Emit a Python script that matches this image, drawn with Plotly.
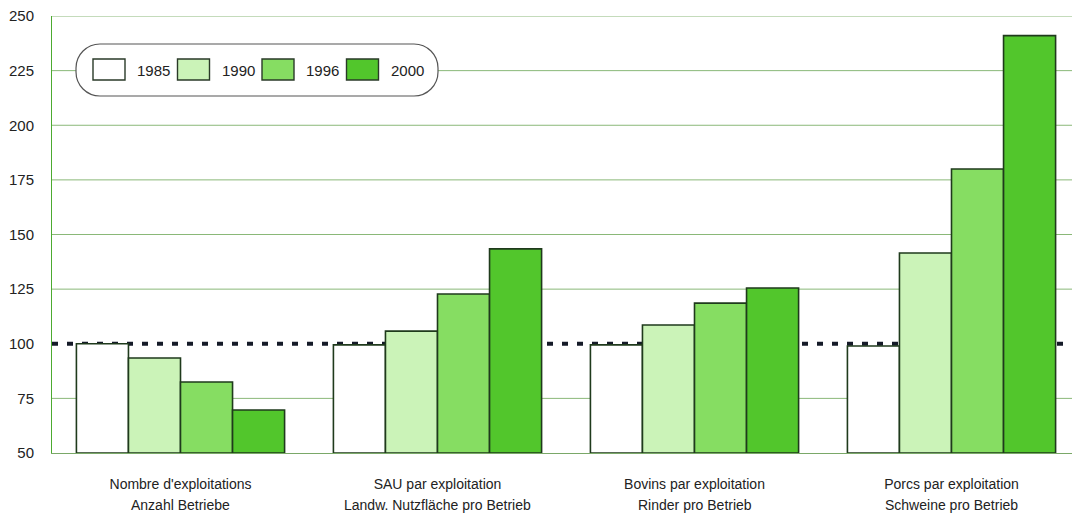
import plotly.graph_objects as go

categories_fr = ["Nombre d'exploitations", "SAU par exploitation", "Bovins par exploitation", "Porcs par exploitation"]
categories_de = ["Anzahl Betriebe", "Landw. Nutzfläche pro Betrieb", "Rinder pro Betrieb", "Schweine pro Betrieb"]
years = ["1985", "1990", "1996", "2000"]
v1985 = [100, 99.5, 99.5, 99]
v1990 = [93.5, 105.8, 108.6, 141.5]
v1996 = [82.5, 122.8, 118.6, 180]
v2000 = [69.7, 143.4, 125.5, 241]
colors = ["#ffffff", "#cbf3b8", "#86dd62", "#52c62c"]
y_ticks = [50, 75, 100, 125, 150, 175, 200, 225, 250]
reference_value = 100

series = [v1985, v1990, v1996, v2000]

# page body has an 8px margin; figure fills the rest of the 1080x518 window
OFF = 8
W, H = 1080 - OFF, 518 - OFF
ML, MR, MT, MB = 52 - OFF, 0, 16 - OFF, 65
PW, PH = W - ML - MR, H - MT - MB

def px(x):  # page pixel -> paper
    return (x - OFF - ML) / PW

def py(y):
    return (H - MB - (y - OFF)) / PH

fig = go.Figure()
for yr, vals, col in zip(years, series, colors):
    fig.add_trace(go.Bar(
        x=categories_fr, y=[v - 50 for v in vals], base=50, name=yr,
        marker=dict(color=col, line=dict(color="#1f3a1c", width=1.6)),
        showlegend=False,
    ))

# horizontal gridlines (skip the reference level, which carries the dotted line)
for t in y_ticks:
    if t != reference_value and t != y_ticks[0]:
        fig.add_shape(type="line", xref="paper", x0=0, x1=1, yref="y", y0=t, y1=t,
                      line=dict(color="#8ab878", width=1), layer="below")

# reference dotted line at 100
fig.add_shape(type="line", xref="paper", x0=0, x1=1, yref="y", y0=reference_value, y1=reference_value,
              line=dict(color="#151a28", width=4, dash="6px,9px"), layer="below")

# second line of category labels
for cfr, cde in zip(categories_fr, categories_de):
    fig.add_annotation(x=cfr, xref="x", y=0, yref="paper", yshift=-52, text=cde, showarrow=False,
                       font=dict(family="Liberation Sans Narrow, Arial Narrow, Arial", size=14, color="#222"),
                       yanchor="middle")

# custom legend with rounded box
x0, x1, y0, y1, r = 76, 438, 44, 96, 24
def P(xx, yy):
    return f"{px(xx):.5f},{py(yy):.5f}"
k = 0.5523 * r
path = (f"M {P(x0 + r, y0)} L {P(x1 - r, y0)} "
        f"C {P(x1 - r + k, y0)} {P(x1, y0 + r - k)} {P(x1, y0 + r)} "
        f"L {P(x1, y1 - r)} "
        f"C {P(x1, y1 - r + k)} {P(x1 - r + k, y1)} {P(x1 - r, y1)} "
        f"L {P(x0 + r, y1)} "
        f"C {P(x0 + r - k, y1)} {P(x0, y1 - r + k)} {P(x0, y1 - r)} "
        f"L {P(x0, y0 + r)} "
        f"C {P(x0, y0 + r - k)} {P(x0 + r - k, y0)} {P(x0 + r, y0)} Z")
fig.add_shape(type="path", xref="paper", yref="paper", path=path,
              line=dict(color="#555", width=1.2), fillcolor="white", layer="above")
for i, (yr, col) in enumerate(zip(years, colors)):
    sx = 93 + i * 84.5
    fig.add_shape(type="rect", xref="paper", yref="paper",
                  x0=px(sx), x1=px(sx + 32), y0=py(59), y1=py(80),
                  fillcolor=col, line=dict(color="#2a3a28", width=1.4), layer="above")
    fig.add_annotation(x=px(sx + 42), xref="paper", y=py(70), yref="paper", text=yr, showarrow=False,
                       xanchor="left", yanchor="middle",
                       font=dict(family="Liberation Sans Narrow, Arial Narrow, Arial", size=15, color="#222"))

fig.update_layout(
    width=W, height=H, autosize=False,
    margin=dict(l=ML, r=MR, t=MT, b=MB),
    paper_bgcolor="white", plot_bgcolor="white",
    barmode="group", bargap=0.19, bargroupgap=0,
    font=dict(family="Liberation Sans, Arial", color="#222"),
)
fig.update_yaxes(range=[50, 250], tickvals=y_ticks, showgrid=False,
                 showline=True, linecolor="#4caa30", linewidth=1, zeroline=False,
                 tickfont=dict(size=15, family="Liberation Sans, Arial", color="#222"),
                 ticks="", ticklabelstandoff=14, ticklabeloverflow="allow")
fig.update_xaxes(showline=True, linecolor="#7aa868", linewidth=1, showgrid=False,
                 tickfont=dict(size=14, family="Liberation Sans Narrow, Arial Narrow, Arial", color="#222"),
                 ticks="", ticklabelstandoff=18)

fig.write_html("out.html")
